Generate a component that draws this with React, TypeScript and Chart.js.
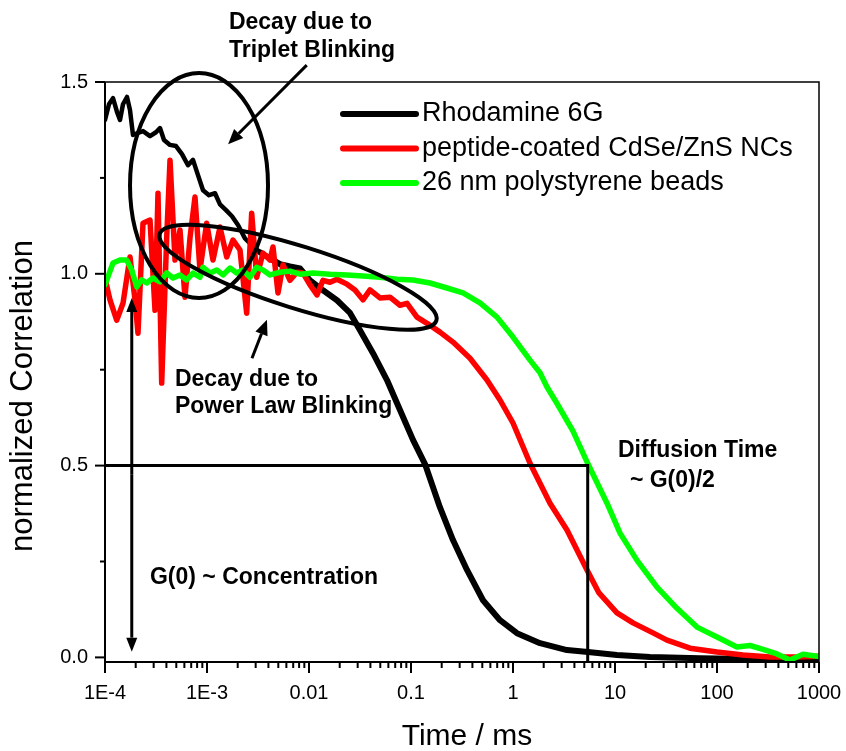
import React, { useEffect, useRef } from 'react';
import { Chart, registerables } from 'chart.js';

Chart.register(...registerables);

// ---------- data (time in ms, normalized correlation) ----------
const RHO_T = [1.0e-4, 1.094e-4, 1.198e-4, 1.311e-4, 1.403e-4, 1.501e-4, 1.643e-4, 1.758e-4, 1.881e-4, 2.106e-4, 2.358e-4, 2.762e-4, 3.162e-4, 3.461e-4, 3.789e-4, 4.338e-4, 4.967e-4, 5.686e-4, 6.511e-4, 7.29e-4, 7.98e-4, 9.14e-4, 1.046e-3, 1.198e-3, 1.341e-3, 1.536e-3, 1.758e-3, 2.013e-3, 2.358e-3, 2.762e-3, 3.308e-3, 4.146e-3, 5.195e-3, 6.511e-3, 8.16e-3, 1.023e-2, 1.372e-2, 1.881e-2, 2.523e-2, 3.162e-2, 4.24e-2, 5.815e-2, 7.8e-2, 0.1046, 0.1372, 0.1924, 0.258, 0.354, 0.508, 0.7455, 1.094, 1.84, 3.383, 5.437, 10.46, 22.03, 68.1, 210.6, 651, 1000];
const RHO_G = [1.401, 1.442, 1.458, 1.422, 1.401, 1.442, 1.461, 1.427, 1.362, 1.367, 1.372, 1.359, 1.369, 1.380, 1.349, 1.336, 1.333, 1.312, 1.283, 1.297, 1.265, 1.218, 1.205, 1.210, 1.181, 1.166, 1.150, 1.127, 1.092, 1.074, 1.056, 1.040, 1.025, 1.019, 1.014, 0.983, 0.957, 0.931, 0.898, 0.853, 0.793, 0.723, 0.645, 0.567, 0.504, 0.391, 0.306, 0.228, 0.149, 0.097, 0.063, 0.037, 0.019, 0.014, 0.006, 0.001, -0.002, -0.004, -0.004, -0.004];

const NC_T = [1.0e-4, 1.119e-4, 1.302e-4, 1.501e-4, 1.758e-4, 1.968e-4, 2.106e-4, 2.358e-4, 2.762e-4, 3.092e-4, 3.308e-4, 3.596e-4, 4.025e-4, 4.338e-4, 4.857e-4, 5.435e-4, 6.084e-4, 6.813e-4, 7.625e-4, 8.53e-4, 9.93e-4, 1.145e-3, 1.341e-3, 1.56e-3, 1.798e-3, 2.106e-3, 2.449e-3, 2.742e-3, 3.07e-3, 3.54e-3, 4.146e-3, 4.437e-3, 4.966e-3, 5.56e-3, 6.511e-3, 7.625e-3, 8.73e-3, 1.023e-2, 1.198e-2, 1.372e-2, 1.606e-2, 1.881e-2, 2.358e-2, 2.825e-2, 3.383e-2, 3.963e-2, 4.966e-2, 6.223e-2, 7.8e-2, 9.14e-2, 0.1145, 0.1435, 0.1924, 0.258, 0.3789, 0.556, 0.7455, 1.0, 1.468, 2.305, 3.383, 5.315, 6.968, 10.46, 15.02, 23.58, 32.35, 54.35, 100, 179.8, 330.9, 608.5, 1000];
const NC_G = [0.988, 0.932, 0.879, 0.923, 1.044, 0.932, 0.845, 1.132, 1.140, 0.905, 1.210, 0.715, 1.094, 1.296, 1.036, 1.114, 0.939, 1.094, 1.200, 1.010, 1.132, 1.036, 1.122, 1.044, 1.088, 1.062, 0.897, 1.158, 0.991, 1.054, 1.036, 1.070, 0.950, 1.023, 0.983, 1.004, 1.002, 0.971, 0.945, 0.983, 0.978, 0.986, 0.973, 0.958, 0.932, 0.958, 0.937, 0.939, 0.918, 0.923, 0.887, 0.871, 0.848, 0.822, 0.780, 0.723, 0.671, 0.611, 0.506, 0.402, 0.332, 0.228, 0.168, 0.116, 0.090, 0.064, 0.045, 0.024, 0.014, 0.006, 0.001, 0.001, 0.003];

const BEAD_T = [1.0e-4, 1.198e-4, 1.403e-4, 1.632e-4, 1.828e-4, 2.045e-4, 2.289e-4, 2.563e-4, 2.955e-4, 3.461e-4, 4.025e-4, 4.642e-4, 5.435e-4, 6.324e-4, 7.29e-4, 8.53e-4, 9.14e-4, 1.07e-3, 1.245e-3, 1.435e-3, 1.681e-3, 1.955e-3, 2.254e-3, 2.64e-3, 3.07e-3, 3.54e-3, 4.146e-3, 5.195e-3, 6.511e-3, 8.16e-3, 1.094e-2, 1.606e-2, 2.358e-2, 3.383e-2, 4.966e-2, 7.29e-2, 0.1046, 0.1536, 0.2254, 0.3235, 0.4747, 0.6968, 1.0, 1.468, 1.84, 2.154, 2.701, 3.875, 5.437, 8.35, 11.2, 16.44, 25.8, 40.53, 63.66, 100, 157, 210.6, 282.5, 387.5, 519.6, 696.8, 1000];
const BEAD_G = [0.971, 1.028, 1.036, 1.036, 1.010, 0.966, 0.984, 0.976, 0.989, 0.979, 1.002, 0.989, 0.997, 0.984, 1.002, 0.991, 1.017, 1.002, 1.010, 0.997, 1.015, 1.002, 1.010, 0.991, 1.017, 1.010, 0.997, 1.004, 1.007, 0.999, 1.002, 0.999, 0.997, 0.994, 0.991, 0.986, 0.984, 0.976, 0.963, 0.950, 0.924, 0.887, 0.835, 0.775, 0.742, 0.705, 0.662, 0.590, 0.504, 0.402, 0.324, 0.253, 0.183, 0.128, 0.079, 0.053, 0.027, 0.031, 0.021, 0.009, -0.007, 0.008, 0.002];

const SERIES_NAMES = ['Rhodamine 6G', 'peptide-coated CdSe/ZnS NCs', '26 nm polystyrene beads'];
const SERIES_COLORS = ['#000000', '#ff0000', '#00ff00'];

// axis ticks
const X_MAJOR = [1e-4, 1e-3, 1e-2, 1e-1, 1, 10, 100, 1000];
const X_LABELS = ['1E-4', '1E-3', '0.01', '0.1', '1', '10', '100', '1000'];
const Y_TICKS = [0, 0.25, 0.5, 0.75, 1.0, 1.25, 1.5];
const Y_LABELED = [0, 0.5, 1.0, 1.5];
const X_MIN = 1e-4, X_MAX = 1000, Y_MIN = -0.012, Y_MAX = 1.5;

// guide: diffusion time at half of G(0)
const HALF_G = 0.5;
const DIFF_TIME = 5.4;

// annotations (data coordinates)
const ELLIPSES = [
  { t: 8.35e-4, g: 1.23, rx: 69, ry: 112.5, rot: 0 },
  { t: 7.8e-3, g: 0.991, rx: 145, ry: 31, rot: 17.4 },
];
const ARROWS = [
  { t1: 9.5e-3, g1: 1.544, t2: 1.61e-3, g2: 1.338 },
  { t1: 2.76e-3, g1: 0.78, t2: 3.87e-3, g2: 0.88 },
];
const DOUBLE_ARROW = { t: 1.83e-4, gTop: 0.937, gBottom: 0.015 };
const NOTES = [
  { t: 1.64e-3, g: 1.656, text: 'Decay due to' },
  { t: 1.64e-3, g: 1.583, text: 'Triplet Blinking' },
  { t: 4.85e-4, g: 0.723, text: 'Decay due to' },
  { t: 4.85e-4, g: 0.653, text: 'Power Law Blinking' },
  { t: 2.76e-4, g: 0.209, text: 'G(0) ~ Concentration' },
  { t: 10.7, g: 0.538, text: 'Diffusion Time' },
  { t: 14.0, g: 0.462, text: '~ G(0)/2' },
];

const FONT = "'Liberation Sans', Arial, Helvetica, sans-serif";

function toPts(ts: number[], gs: number[]) {
  return ts.map((t, i) => ({ x: t, y: gs[i] }));
}

function buildXTicks() {
  const out: { value: number; major: boolean }[] = [];
  for (let i = 0; i < X_MAJOR.length; i++) {
    out.push({ value: X_MAJOR[i], major: true });
    if (i < X_MAJOR.length - 1) {
      for (let m = 2; m <= 9; m++) out.push({ value: X_MAJOR[i] * m, major: false });
    }
  }
  return out;
}

function majorIndex(v: number) {
  for (let i = 0; i < X_MAJOR.length; i++) {
    if (Math.abs(Math.log10(v) - Math.log10(X_MAJOR[i])) < 1e-6) return i;
  }
  return -1;
}

function drawArrow(ctx: CanvasRenderingContext2D, x1: number, y1: number, x2: number, y2: number, head = 14, half = 6) {
  const ang = Math.atan2(y2 - y1, x2 - x1);
  const bx = x2 - head * Math.cos(ang);
  const by = y2 - head * Math.sin(ang);
  ctx.beginPath();
  ctx.moveTo(x1, y1);
  ctx.lineTo(bx, by);
  ctx.stroke();
  ctx.beginPath();
  ctx.moveTo(x2, y2);
  ctx.lineTo(bx + half * Math.sin(ang), by - half * Math.cos(ang));
  ctx.lineTo(bx - half * Math.sin(ang), by + half * Math.cos(ang));
  ctx.closePath();
  ctx.fill();
}

const decoPlugin = {
  id: 'deco',
  afterDatasetsDraw(chart: any) {
    const { ctx, chartArea: a, scales } = chart;
    const xs = scales.x, ys = scales.y;
    const px = (t: number) => xs.getPixelForValue(t);
    const py = (g: number) => ys.getPixelForValue(g);
    ctx.save();
    ctx.strokeStyle = '#000';
    ctx.fillStyle = '#000';
    ctx.lineCap = 'butt';

    // frame
    ctx.lineWidth = 2;
    ctx.beginPath();
    ctx.moveTo(a.left, a.top);
    ctx.lineTo(a.left, a.bottom);
    ctx.lineTo(a.right, a.bottom);
    ctx.stroke();
    ctx.lineWidth = 1.5;
    ctx.beginPath();
    ctx.moveTo(a.left, a.top);
    ctx.lineTo(a.right, a.top);
    ctx.lineTo(a.right, a.bottom);
    ctx.stroke();

    // x ticks
    ctx.lineWidth = 2;
    buildXTicks().forEach((tk) => {
      const x = px(tk.value);
      ctx.beginPath();
      ctx.moveTo(x, a.bottom);
      ctx.lineTo(x, a.bottom + (tk.major ? 11 : 6));
      ctx.stroke();
    });
    // y ticks
    Y_TICKS.forEach((v) => {
      const y = py(v);
      const major = Y_LABELED.includes(v);
      ctx.beginPath();
      ctx.moveTo(a.left, y);
      ctx.lineTo(a.left - (major ? 10 : 5), y);
      ctx.stroke();
    });

    // ellipses
    ctx.lineWidth = 4;
    ELLIPSES.forEach((e) => {
      ctx.beginPath();
      ctx.ellipse(px(e.t), py(e.g), e.rx, e.ry, (e.rot * Math.PI) / 180, 0, Math.PI * 2);
      ctx.stroke();
    });

    // arrows
    ctx.lineWidth = 3;
    ARROWS.forEach((ar) => drawArrow(ctx, px(ar.t1), py(ar.g1), px(ar.t2), py(ar.g2), 15, 6.5));
    const dx = px(DOUBLE_ARROW.t);
    const yTop = py(DOUBLE_ARROW.gTop);
    const yBot = py(DOUBLE_ARROW.gBottom);
    const mid = (yTop + yBot) / 2;
    drawArrow(ctx, dx, mid, dx, yTop, 14, 5.5);
    drawArrow(ctx, dx, mid, dx, yBot, 14, 5.5);

    // notes
    ctx.font = `bold 23px ${FONT}`;
    ctx.textAlign = 'left';
    ctx.textBaseline = 'middle';
    NOTES.forEach((n) => ctx.fillText(n.text, px(n.t), py(n.g)));

    // legend
    ctx.font = `27px ${FONT}`;
    ctx.lineCap = 'round';
    SERIES_NAMES.forEach((name, i) => {
      const y = a.top + 32 + i * 34.5;
      ctx.strokeStyle = SERIES_COLORS[i];
      ctx.lineWidth = 6;
      ctx.beginPath();
      ctx.moveTo(a.left + 238, y);
      ctx.lineTo(a.left + 311, y);
      ctx.stroke();
      ctx.fillStyle = '#000';
      ctx.fillText(name, a.left + 317, y);
    });

    // axis titles
    ctx.fillStyle = '#000';
    ctx.font = `30px ${FONT}`;
    ctx.textAlign = 'center';
    ctx.textBaseline = 'alphabetic';
    ctx.fillText('Time / ms', (a.left + a.right) / 2 + 5, 745);
    ctx.save();
    ctx.font = `31px ${FONT}`;
    ctx.translate(23, (a.top + a.bottom) / 2 + 24);
    ctx.rotate(-Math.PI / 2);
    ctx.textBaseline = 'middle';
    ctx.fillText('normalized Correlation', 0, 0);
    ctx.restore();

    ctx.restore();
  },
};

export default function App() {
  const ref = useRef<HTMLCanvasElement | null>(null);

  useEffect(() => {
    document.body.style.margin = '0';
    const canvas = ref.current;
    if (!canvas) return;
    const lineDs = (label: string, data: any[], color: string, order: number, width = 5.5) => ({
      label,
      data,
      borderColor: color,
      backgroundColor: color,
      borderWidth: width,
      pointRadius: 0,
      tension: 0,
      fill: false,
      order,
      borderCapStyle: 'round' as const,
      borderJoinStyle: 'round' as const,
    });
    const chart = new Chart(canvas, {
      type: 'line',
      data: {
        datasets: [
          lineDs(SERIES_NAMES[2], toPts(BEAD_T, BEAD_G), SERIES_COLORS[2], 0),
          lineDs(SERIES_NAMES[1], toPts(NC_T, NC_G), SERIES_COLORS[1], 1),
          {
            ...lineDs(SERIES_NAMES[0], toPts(RHO_T, RHO_G), SERIES_COLORS[0], 2, 6),
            segment: { borderWidth: (c: any) => (c.p0.parsed.x < 3e-3 ? 4.5 : 6) },
          },
          {
            ...lineDs('guide', [
              { x: X_MIN, y: HALF_G },
              { x: DIFF_TIME, y: HALF_G },
              { x: DIFF_TIME, y: Y_MIN },
            ], '#000000', -1, 3),
            borderCapStyle: 'butt' as const,
            borderJoinStyle: 'miter' as const,
          },
        ],
      },
      options: {
        responsive: false,
        animation: false,
        devicePixelRatio: 1,
        layout: { padding: { top: 82, right: 27, left: 0, bottom: 0 } },
        plugins: {
          legend: { display: false },
          tooltip: { enabled: false },
          title: { display: false },
        },
        scales: {
          x: {
            type: 'logarithmic',
            min: X_MIN,
            max: X_MAX,
            grid: { display: false, drawTicks: false },
            border: { display: false },
            afterFit: (s: any) => { s.height = 89; s.paddingLeft = 0; s.paddingRight = 0; },
            afterBuildTicks: (s: any) => { s.ticks = buildXTicks(); },
            ticks: {
              autoSkip: false,
              maxRotation: 0,
              minRotation: 0,
              padding: 19,
              color: '#000',
              font: { family: FONT, size: 20 },
              callback: (v: any) => {
                const i = majorIndex(Number(v));
                return i >= 0 ? X_LABELS[i] : '';
              },
            },
          },
          y: {
            type: 'linear',
            min: Y_MIN,
            max: Y_MAX,
            grid: { display: false, drawTicks: false },
            border: { display: false },
            afterFit: (s: any) => { s.width = 105; s.paddingTop = 0; s.paddingBottom = 0; },
            afterBuildTicks: (s: any) => { s.ticks = Y_TICKS.map((v) => ({ value: v })); },
            ticks: {
              autoSkip: false,
              padding: 17,
              color: '#000',
              font: { family: FONT, size: 20 },
              callback: (v: any) => (Y_LABELED.includes(Number(v)) ? Number(v).toFixed(1) : ''),
            },
          },
        },
      },
      plugins: [decoPlugin],
    } as any);
    return () => chart.destroy();
  }, []);

  return <canvas ref={ref} width={846} height={751} style={{ display: 'block' }} />;
}
